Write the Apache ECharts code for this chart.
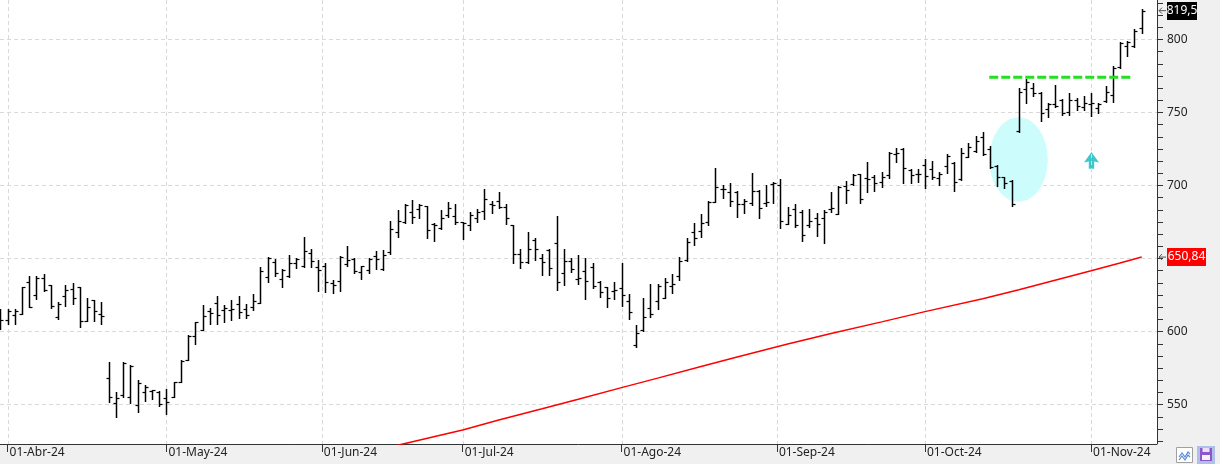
<!DOCTYPE html>
<html><head><meta charset="utf-8">
<script src="https://cdn.jsdelivr.net/npm/echarts@6/dist/echarts.min.js"></script>
<style>html,body{margin:0;padding:0;background:#f0f0f0}#c{width:1220px;height:464px}</style>
</head><body><div id="c"></div>
<script>
// ---- data (trading-day index 0 = 28-Mar-24 ... 158 = 12-Nov-24) ----
const opens = [612.0,607.8,611.2,611.7,633.6,624.9,636.3,631.7,609.6,624.2,629.0,630.4,607.3,621.5,611.7,567.9,550.8,556.5,554.9,549.6,
558.7,559.4,558.7,554.2,555.3,565.6,580.4,596.8,600.9,613.9,619.2,614.6,614.6,618.7,615.3,616.9,619.7,637.4,647.3,635.8,
637.9,646.6,644.7,653.4,643.8,644.7,632.9,634.5,646.1,649.5,640.9,642.0,651.8,642.7,654.3,667.8,675.1,681.9,683.5,685.8,
673.3,671.0,679.6,678.7,674.6,672.8,677.4,682.4,687.2,689.0,685.4,672.8,653.0,647.3,662.5,650.0,655.7,660.3,639.7,648.2,
635.9,641.3,643.8,634.0,630.2,627.9,629.9,620.8,590.7,600.9,615.8,621.0,622.6,631.0,638.1,649.0,667.8,668.9,674.6,688.3,
697.4,695.6,695.2,687.2,687.6,696.3,688.1,700.6,700.2,673.2,683.7,681.9,672.8,677.4,677.4,683.7,680.1,699.7,700.9,707.7,
704.7,705.4,702.4,707.0,721.4,725.0,710.4,707.5,713.9,710.9,704.7,713.2,715.0,704.3,719.6,723.2,733.3,724.6,713.2,705.4,
703.1,737.4,765.6,766.3,762.9,752.0,755.4,758.4,750.4,758.4,753.3,755.6,752.6,757.6,762.0,781.1,795.3,795.3,807.4];
const highs = [615.3,615.1,615.1,630.6,637.9,637.9,639.3,631.7,620.1,631.7,632.9,630.4,622.6,621.5,619.9,579.3,558.3,579.3,577.0,566.5,
563.3,559.9,559.2,560.6,565.6,580.4,597.5,606.2,618.1,616.2,624.2,618.1,621.5,624.2,618.5,625.4,644.3,650.7,649.5,642.7,
652.3,650.0,664.4,656.4,648.9,646.6,635.2,651.6,658.4,650.0,644.7,650.0,655.2,655.7,675.5,683.1,686.9,689.9,687.2,685.8,
673.9,683.1,688.3,687.2,675.1,681.9,683.5,697.2,689.5,695.2,686.9,672.8,656.2,667.8,664.1,652.7,656.2,679.2,656.4,650.5,
652.3,650.0,646.6,634.7,630.6,634.0,646.6,625.6,604.4,622.6,632.4,632.4,636.3,639.3,651.1,664.1,673.9,680.3,689.4,712.0,
700.2,701.3,696.1,690.6,708.6,696.8,700.2,702.0,704.0,684.9,687.2,683.1,683.7,680.8,683.1,695.1,699.5,702.9,707.7,707.7,
715.7,707.0,709.3,722.5,725.7,725.3,711.1,711.1,717.7,716.6,708.8,721.4,715.7,725.3,728.7,733.7,736.2,726.9,713.9,705.9,
703.6,766.3,772.5,769.7,763.6,756.1,768.6,759.1,763.4,759.5,761.1,763.4,756.1,767.9,781.6,798.3,798.9,806.7,820.4];
const lows = [601.4,605.1,605.1,611.7,616.5,622.2,627.9,615.8,608.7,617.1,618.7,603.2,607.1,607.1,605.1,551.9,541.4,555.3,551.0,545.1,
552.4,553.7,549.2,543.7,555.3,565.6,580.4,591.1,600.7,605.1,604.8,606.7,607.8,608.9,608.9,614.4,619.2,634.0,638.1,630.1,
637.4,643.1,644.3,644.3,627.9,627.2,626.0,627.9,644.7,640.2,635.6,640.2,642.5,642.0,652.7,664.8,674.4,673.9,677.8,664.1,
662.1,669.8,678.5,673.3,663.2,669.4,675.1,676.9,681.2,684.7,673.3,647.0,643.6,646.6,648.9,638.6,638.6,628.3,631.7,640.9,
632.4,621.9,629.5,623.8,616.9,621.9,617.4,608.3,589.5,600.5,610.1,615.3,622.6,626.5,635.2,648.4,659.1,664.8,672.8,688.3,
691.0,685.8,678.5,681.2,686.5,677.4,686.0,688.1,671.0,673.2,671.7,662.1,671.7,665.5,660.7,681.9,680.1,688.1,700.2,687.6,
695.1,696.3,699.0,704.7,716.1,701.8,701.3,702.4,698.3,704.3,700.2,708.6,696.3,703.6,719.0,722.6,720.7,711.6,699.7,697.9,
685.8,736.7,756.5,761.1,744.2,746.5,753.3,748.1,748.1,751.5,751.5,747.6,749.7,757.2,757.2,780.0,788.7,794.8,804.0];
const closes = [607.8,613.9,614.2,630.1,616.9,636.3,628.3,617.6,619.0,628.3,623.1,607.1,616.9,613.9,610.5,554.9,554.4,578.4,576.5,564.7,
561.7,559.6,550.1,551.4,565.6,580.0,597.1,606.2,610.5,612.8,611.2,615.8,615.3,613.0,611.2,620.8,641.3,650.0,639.7,642.0,
646.6,649.3,655.0,648.2,642.0,633.6,631.5,650.7,648.9,641.6,644.7,649.3,649.3,652.3,669.8,675.3,686.3,678.5,686.5,669.2,
672.8,677.4,684.2,674.6,673.9,679.6,681.9,690.4,686.5,685.4,677.4,652.7,647.7,656.2,656.2,647.7,643.2,633.6,648.2,642.5,
636.3,634.5,631.1,626.7,622.6,628.3,624.9,613.0,598.7,609.6,611.9,631.0,633.8,632.2,648.2,661.4,663.7,673.9,688.8,698.6,
697.2,689.2,687.2,689.4,696.1,684.2,688.8,701.8,675.5,679.6,672.8,665.9,675.8,673.2,681.9,684.2,698.6,696.7,707.0,690.6,
704.3,701.8,705.9,722.3,722.3,711.6,707.0,707.7,706.3,705.9,707.5,720.0,702.0,722.3,726.5,730.4,721.2,712.7,705.4,701.8,
687.2,764.1,770.9,763.4,749.7,755.4,754.2,749.7,758.4,754.2,756.1,756.1,755.6,764.1,780.0,797.1,798.3,805.6,819.5];
// 200-session moving average, read at a few sessions
const smaIdx = [48,55,60,64,69,75,80,86,91,97,102,109,115,122,128,136,141,146,151,155,158];
const smaVal = [514.5,522.0,527.8,532.5,539.3,547.0,553.5,561.5,568.0,576.0,582.5,591.3,598.5,606.5,613.5,622.3,628.5,635.0,641.5,646.8,650.84];
// month ticks (session index of the 1st of each month; weekends fall between sessions)
const monthPos = [1, 23, 44.5, 64, 86, 107.5, 128, 151];
const monthLabels = ['01-Abr-24','01-May-24','01-Jun-24','01-Jul-24','01-Ago-24','01-Sep-24','01-Oct-24','01-Nov-24'];
const yLabelValues = [550, 600, 650, 700, 750, 800];
const yMinorStep = 50 / 6;
// annotations
const resistance = {from: 136.9, to: 156.8, value: 773.9};
const ellipseNote = {cx: 140.95, cy: 717.6, rx: 4.04, ry: 28.9};
const arrowNote = {x: 151.05, top: 722.7};
const lastCloseText = '819,5';
const smaLastText = '650,84';

const X_MIN = -0.0415, X_MAX = 160.12, Y_MIN = 522.9, Y_MAX = 826.8;
const GRID_RIGHT_PX = 1157;   // grid: left 0, right 63 in a 1220px canvas
const yTickValues = [];
for (let v = 550 - 3 * yMinorStep; v <= Y_MAX; v += yMinorStep) yTickValues.push(+v.toFixed(3));

const FONT = 'Noto Sans';
const AXIS = '#333';
const chart = echarts.init(document.getElementById('c'), null, {renderer: 'canvas'});

function renderOHLC(params, api) {
  const i = api.value(0);
  const pO = api.coord([i, api.value(1)]);
  const pH = api.coord([i, api.value(2)]);
  const pL = api.coord([i, api.value(3)]);
  const pC = api.coord([i, api.value(4)]);
  const x = Math.round(pH[0]) + 0.5;
  const yo = Math.round(pO[1]) + 0.5, yc = Math.round(pC[1]) + 0.5;
  return {type: 'group', children: [
    {type: 'line', shape: {x1: x, y1: Math.round(pH[1]), x2: x, y2: Math.round(pL[1]) + 1}, style: {stroke: '#000', lineWidth: 1.5}},
    {type: 'line', shape: {x1: x - 3, y1: yo, x2: x, y2: yo}, style: {stroke: '#000', lineWidth: 1.2}},
    {type: 'line', shape: {x1: x, y1: yc, x2: x + 3, y2: yc}, style: {stroke: '#000', lineWidth: 1.2}}
  ]};
}
const gridStyle = {stroke: '#d9d9d9', lineWidth: 1, lineDash: [4, 3]};

chart.setOption({
  backgroundColor: '#f0f0f0',
  animation: false,
  grid: {left: 0, top: 0, right: 1220 - GRID_RIGHT_PX, bottom: 20, show: true, backgroundColor: '#fff', borderWidth: 0},
  xAxis: {
    type: 'value', min: X_MIN, max: X_MAX,
    axisLine: {show: true, onZero: false, lineStyle: {color: AXIS, width: 1}},
    axisTick: {show: true, customValues: monthPos, length: 8, lineStyle: {color: AXIS}},
    axisLabel: {customValues: monthPos, align: 'left', margin: 3, color: '#222', fontSize: 12, fontFamily: FONT,
      padding: [0, 0, 0, 2],
      formatter: v => { const k = monthPos.findIndex(p => Math.abs(p - v) < 1e-6); return k >= 0 ? monthLabels[k] : ''; }},
    splitLine: {show: false}
  },
  yAxis: {
    type: 'value', position: 'right', min: Y_MIN, max: Y_MAX,
    axisLine: {show: false, onZero: false},
    axisTick: {show: false},
    axisLabel: {customValues: yLabelValues, margin: 10, color: '#222', fontSize: 12, fontFamily: FONT},
    splitLine: {show: false}
  },
  series: [
    { // arrow note
      type: 'custom', z: 1, silent: true, clip: false,
      data: [[arrowNote.x, arrowNote.top]],
      renderItem: (params, api) => {
        const p = api.coord([api.value(0), api.value(1)]);
        const cx = p[0], ty = p[1];
        return {type: 'polygon', shape: {points: [[cx, ty], [cx + 7.5, ty + 10.5], [cx + 2.7, ty + 9.5], [cx + 2.7, ty + 16.6],
          [cx - 2.7, ty + 16.6], [cx - 2.7, ty + 9.5], [cx - 7.5, ty + 10.5]]}, style: {fill: '#3ec8cc'}};
      }
    },
    { // vertical grid
      type: 'custom', z: 2, silent: true,
      data: monthPos.map(p => [p, Y_MIN]),
      renderItem: (params, api) => {
        const cs = params.coordSys;
        const x = Math.round(api.coord([api.value(0), api.value(1)])[0]) + 0.5;
        return {type: 'line', shape: {x1: x, y1: cs.y, x2: x, y2: cs.y + cs.height}, style: gridStyle};
      }
    },
    { // horizontal grid
      type: 'custom', z: 2, silent: true,
      data: yLabelValues.map(v => [X_MIN, v]),
      renderItem: (params, api) => {
        const cs = params.coordSys;
        const y = Math.round(api.coord([api.value(0), api.value(1)])[1]) + 0.5;
        return {type: 'line', shape: {x1: cs.x, y1: y, x2: cs.x + cs.width, y2: y}, style: gridStyle};
      }
    },
    { // ellipse note
      type: 'custom', z: 3, silent: true,
      data: [[ellipseNote.cx, ellipseNote.cy]],
      renderItem: (params, api) => {
        const c = api.coord([api.value(0), api.value(1)]);
        const rx = api.size([ellipseNote.rx, 0])[0], ry = api.size([0, ellipseNote.ry])[1];
        const pts = [];
        for (let k = 0; k < 72; k++) { const a = k / 72 * Math.PI * 2; pts.push([c[0] + rx * Math.cos(a), c[1] + ry * Math.sin(a)]); }
        return {type: 'polygon', shape: {points: pts}, style: {fill: '#ccfcfc'}};
      }
    },
    { // moving average
      type: 'line', z: 4, symbol: 'none', silent: true,
      data: smaIdx.map((x, k) => [x, smaVal[k]]),
      lineStyle: {color: '#ff0000', width: 1.5}
    },
    { // OHLC bars
      type: 'custom', z: 5, silent: true,
      data: opens.map((o, i) => [i, o, highs[i], lows[i], closes[i]]),
      encode: {x: 0, y: [1, 2, 3, 4]},
      renderItem: renderOHLC
    },
    { // resistance
      type: 'line', z: 6, symbol: 'none', silent: true,
      data: [[resistance.from, resistance.value], [resistance.to, resistance.value]],
      lineStyle: {color: '#20e020', width: 3, type: [9, 3]}
    }
  ]
});

// right price scale: axis line and ticks every 50/6, placed through the y scale
const xr = GRID_RIGHT_PX + 0.5;
const yTop = chart.convertToPixel({yAxisIndex: 0}, Y_MAX);
const yBottom = chart.convertToPixel({yAxisIndex: 0}, Y_MIN);
const scaleEls = [{type: 'rect', shape: {x: GRID_RIGHT_PX, y: yTop, width: 1, height: yBottom - yTop}, style: {fill: AXIS}}];
yTickValues.forEach(v => {
  const y = Math.round(chart.convertToPixel({yAxisIndex: 0}, v));
  scaleEls.push({type: 'rect', shape: {x: GRID_RIGHT_PX, y: y, width: 6, height: 1}, style: {fill: AXIS}});
});

// price tags on the right scale
function tag(value, text, bg, w) {
  const y = chart.convertToPixel({yAxisIndex: 0}, value);
  return [
    {type: 'polyline', shape: {points: [[1166, y], [1159, y]]}, style: {stroke: '#555', lineWidth: 1}},
    {type: 'polyline', shape: {points: [[1162, y - 3], [1159, y], [1162, y + 3]]}, style: {stroke: '#555', lineWidth: 1, fill: null}},
    {type: 'rect', shape: {x: 1167, y: Math.round(y) - 9, width: w, height: 18}, style: {fill: bg}},
    {type: 'text', x: 1167 + w / 2, y: Math.round(y), style: {text: text, fill: '#fff', font: '12px ' + FONT, align: 'center', verticalAlign: 'middle'}}
  ];
}
const g = [].concat(
  scaleEls,
  tag(closes[closes.length - 1], lastCloseText, '#000', 30),
  tag(smaVal[smaVal.length - 1], smaLastText, '#ff0000', 39),
  [
    {type: 'rect', shape: {x: 1176.5, y: 447.5, width: 16, height: 15}, style: {fill: '#fff', stroke: '#a0a0a0', lineWidth: 1}},
    {type: 'polyline', shape: {points: [[1179, 457], [1182, 453], [1185, 457], [1188, 452], [1190, 454]]}, style: {stroke: '#5a8ad8', lineWidth: 1.2, fill: null}},
    {type: 'polyline', shape: {points: [[1179, 460], [1182, 456], [1185, 460], [1188, 455], [1190, 457]]}, style: {stroke: '#5a8ad8', lineWidth: 1.2, fill: null}},
    {type: 'rect', shape: {x: 1197, y: 446, width: 18, height: 18}, style: {fill: '#b0c0e8'}},
    {type: 'rect', shape: {x: 1200, y: 448, width: 12, height: 13}, style: {fill: '#8a56c8'}},
    {type: 'rect', shape: {x: 1202.5, y: 448, width: 7, height: 4}, style: {fill: '#e8e0f4'}},
    {type: 'rect', shape: {x: 1202, y: 455, width: 8, height: 5}, style: {fill: '#f4f0fa'}}
  ]
);
chart.setOption({graphic: g.map(e => Object.assign({silent: true, z: 100}, e))});
</script>
</body></html>
